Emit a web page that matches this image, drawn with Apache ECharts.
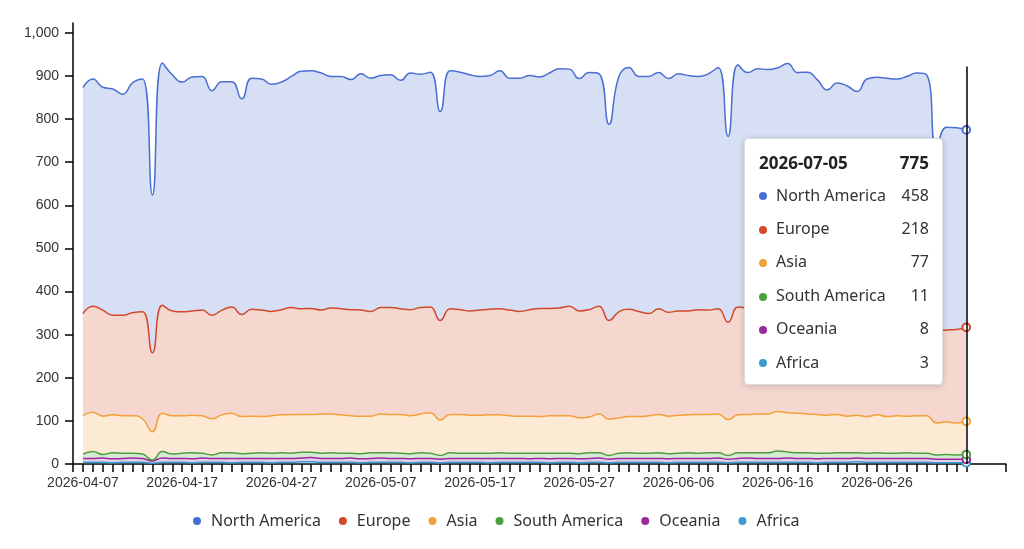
<!DOCTYPE html>
<html>
<head>
<meta charset="utf-8">
<script src="https://cdn.jsdelivr.net/npm/echarts@6/dist/echarts.min.js"></script>
<style>
html, body { margin: 0; padding: 0; background: #fff; }
#main { width: 1024px; height: 549px; }
</style>
</head>
<body>
<div id="main"></div>
<script>
// days on the axis: 2026-04-06 .. 2026-07-09, data runs 2026-04-07 .. 2026-07-05
var axisStart = '2026-04-06';
var axisDays = 95;
var dataOffset = 1;
var tooltipDate = '2026-07-05';

var regionNames = ['North America', 'Europe', 'Asia', 'South America', 'Oceania', 'Africa'];
var regionColors = ['#4a6fd2', '#d2492b', '#f4a03a', '#4a9f3f', '#9a2a9e', '#3e9bd0'];

var northAmerica = [
    524, 527, 517, 525, 513, 533, 540, 366, 562, 548,
    533, 543, 542, 521, 530, 523, 500, 536, 536, 527,
    528, 536, 551, 551, 550, 537, 539, 534, 548, 541,
    538, 540, 530, 549, 541, 545, 485, 552, 551, 548,
    542, 542, 552, 538, 541, 543, 537, 546, 555, 550,
    539, 550, 539, 455, 546, 561, 545, 550, 548, 542,
    550, 546, 541, 548, 560, 431, 562, 546, 557, 554,
    554, 566, 548, 548, 533, 512, 525, 520, 509, 534,
    537, 537, 536, 540, 547, 545, 421, 470, 468, 458
];
var europe = [
    237, 246, 246, 231, 233, 239, 248, 183, 250, 243,
    241, 242, 245, 240, 243, 246, 237, 248, 247, 242,
    244, 248, 245, 246, 241, 246, 246, 246, 246, 243,
    247, 248, 245, 246, 247, 245, 231, 245, 243, 242,
    244, 245, 246, 245, 243, 247, 251, 249, 250, 254,
    248, 249, 250, 229, 246, 249, 244, 237, 245, 241,
    242, 241, 243, 242, 244, 226, 250, 247, 244, 245,
    243, 244, 242, 245, 243, 243, 244, 246, 242, 249,
    246, 248, 245, 248, 248, 246, 214, 213, 217, 218
];
var asia = [
    89, 91, 89, 88, 87, 87, 82, 66, 89, 89,
    87, 87, 87, 84, 88, 92, 86, 86, 84, 87,
    88, 90, 88, 88, 91, 90, 89, 87, 87, 85,
    90, 89, 90, 88, 90, 94, 82, 89, 90, 88,
    88, 89, 88, 87, 86, 86, 85, 87, 87, 87,
    83, 83, 90, 84, 82, 84, 85, 87, 89, 87,
    88, 88, 90, 89, 90, 83, 88, 89, 90, 90,
    92, 91, 92, 90, 90, 88, 89, 85, 87, 85,
    88, 85, 87, 85, 87, 87, 74, 76, 74, 77
];
var southAmerica = [
    10, 16, 8, 14, 12, 11, 10, 2, 15, 10,
    12, 14, 11, 8, 13, 13, 11, 12, 13, 12,
    13, 12, 13, 12, 12, 13, 12, 11, 12, 13,
    12, 13, 12, 12, 13, 12, 9, 13, 12, 12,
    12, 12, 13, 12, 12, 13, 12, 13, 12, 12,
    12, 13, 12, 9, 12, 13, 12, 12, 13, 12,
    12, 13, 12, 13, 12, 9, 13, 12, 13, 13,
    17, 14, 13, 13, 13, 12, 13, 13, 12, 12,
    13, 12, 12, 13, 12, 12, 10, 11, 10, 11
];
var oceania = [
    9, 9, 10, 9, 9, 10, 9, 5, 10, 9,
    9, 9, 10, 9, 9, 10, 9, 9, 9, 10,
    9, 9, 9, 10, 9, 9, 9, 10, 9, 9,
    10, 9, 9, 9, 9, 9, 8, 9, 9, 9,
    9, 10, 9, 9, 9, 8, 9, 9, 9, 9,
    9, 9, 10, 8, 9, 9, 9, 9, 9, 9,
    9, 9, 9, 9, 10, 8, 9, 10, 9, 9,
    9, 10, 9, 9, 9, 9, 9, 9, 9, 9,
    9, 9, 9, 9, 9, 9, 8, 8, 8, 8
];
var africa = [
    4, 4, 4, 3, 4, 4, 4, 2, 4, 4,
    4, 3, 4, 4, 4, 3, 4, 4, 4, 3,
    4, 4, 5, 5, 4, 4, 4, 4, 3, 4,
    4, 4, 4, 3, 4, 4, 3, 4, 4, 4,
    4, 3, 4, 4, 4, 4, 4, 3, 4, 4,
    3, 4, 4, 3, 4, 4, 4, 4, 4, 3,
    4, 4, 4, 4, 4, 3, 4, 4, 4, 4,
    4, 4, 4, 4, 3, 4, 4, 4, 5, 4,
    4, 4, 4, 4, 4, 4, 3, 3, 3, 3
];
var regionValues = [northAmerica, europe, asia, southAmerica, oceania, africa];

var yTicks = [0, 100, 200, 300, 400, 500, 600, 700, 800, 900, 1000];

function buildDates(start, n) {
    var out = [];
    var d0 = new Date(start + 'T00:00:00Z');
    for (var i = 0; i < n; i++) {
        var d = new Date(d0.getTime() + i * 86400000);
        out.push(d.toISOString().slice(0, 10));
    }
    return out;
}
var dates = buildDates(axisStart, axisDays);
var lastDataIndex = dataOffset + northAmerica.length - 1;

// pad the values so they sit on the right days of the axis
function padded(values) {
    var out = [];
    for (var i = 0; i < axisDays; i++) {
        var k = i - dataOffset;
        out.push(k >= 0 && k < values.length ? values[k] : null);
    }
    return out;
}

var font = '"Liberation Sans", Arial, sans-serif';
var uiFont = '"Noto Sans", "Open Sans", sans-serif';

var series = [];
// stack bottom-up: Africa first, North America last
for (var s = regionNames.length - 1; s >= 0; s--) {
    series.push({
        name: regionNames[s],
        type: 'line',
        stack: 'total',
        smooth: true,
        showSymbol: false,
        symbol: 'emptyCircle',
        symbolSize: 7,
        color: regionColors[s],
        lineStyle: { width: 1.5 },
        areaStyle: { opacity: 0.22 },
        emphasis: { disabled: true },
        data: padded(regionValues[s])
    });
}
series.push({
    name: 'pointer',
    type: 'line',
    data: [],
    silent: true,
    markLine: {
        silent: true,
        symbol: 'none',
        animation: false,
        label: { show: false },
        lineStyle: { color: '#000', width: 1.5, type: 'solid' },
        data: [[{ coord: [tooltipDate, 0] }, { coord: [tooltipDate, 922] }]]
    }
});

var myChart = echarts.init(document.getElementById('main'));
var option = {
    animation: false,
    grid: { left: 73, right: 18, top: 23, bottom: 85 },
    legend: {
        data: regionNames,
        bottom: 15,
        left: 188,
        icon: 'circle',
        itemWidth: 18,
        itemHeight: 8,
        itemGap: 18,
        textStyle: { fontFamily: uiFont, fontSize: 16, color: '#333' }
    },
    tooltip: {
        trigger: 'axis',
        triggerOn: 'none',
        alwaysShowContent: true,
        position: [744, 138],
        padding: [7, 13, 6, 14],
        backgroundColor: '#fff',
        borderColor: '#ddd',
        borderWidth: 1,
        extraCssText: 'box-shadow: 0 1px 6px rgba(0,0,0,0.18); border-radius: 4px;',
        axisPointer: { type: 'line', lineStyle: { color: 'rgba(0,0,0,0)' } },
        formatter: function (params) {
            var byName = {};
            var total = 0;
            params.forEach(function (p) {
                if (regionNames.indexOf(p.seriesName) >= 0 && p.value != null) {
                    byName[p.seriesName] = p;
                    total += p.value;
                }
            });
            var row = 'display:flex;justify-content:space-between;align-items:center;line-height:1;';
            var html = '<div style="font-family:' + uiFont.replace(/"/g, "'") + ';width:170px;color:#333;">';
            html += '<div style="' + row + 'height:32px;font-weight:bold;font-size:17px;color:#222;">' +
                '<span>' + params[0].name + '</span><span>' + total + '</span></div>';
            regionNames.forEach(function (n, i) {
                var p = byName[n];
                if (!p) return;
                html += '<div style="' + row + 'height:33.4px;font-size:16px;">' +
                    '<span><span style="display:inline-block;width:8px;height:8px;border-radius:4px;margin-right:9px;vertical-align:middle;background:' +
                    regionColors[i] + ';"></span>' + n + '</span><span>' + p.value + '</span></div>';
            });
            return html + '</div>';
        }
    },
    xAxis: {
        type: 'category',
        data: dates,
        boundaryGap: false,
        axisLine: { lineStyle: { color: '#000', width: 1.5 } },
        axisTick: {
            length: 8,
            lineStyle: { color: '#000', width: 1.5 },
            interval: function (idx) { return idx <= lastDataIndex || idx === axisDays - 1; }
        },
        axisLabel: {
            color: '#333',
            fontFamily: font,
            fontSize: 14,
            margin: 12,
            interval: function (idx) { return (idx - dataOffset) % 10 === 0 && idx <= lastDataIndex - 8; }
        },
        splitLine: { show: false }
    },
    yAxis: {
        type: 'value',
        min: 0,
        max: 1023,
        interval: 100,
        axisLine: { show: true, lineStyle: { color: '#000', width: 1.5 } },
        axisTick: { show: true, length: 8, lineStyle: { color: '#000', width: 1.5 } },
        axisLabel: {
            color: '#333',
            fontFamily: font,
            fontSize: 14,
            margin: 14,
            showMaxLabel: false,
            formatter: function (v) { return yTicks.indexOf(v) >= 0 ? v.toLocaleString('en-US') : ''; }
        },
        splitLine: { show: false }
    },
    series: series
};
myChart.setOption(option);
myChart.dispatchAction({ type: 'showTip', seriesIndex: 0, dataIndex: lastDataIndex });
</script>
</body>
</html>
